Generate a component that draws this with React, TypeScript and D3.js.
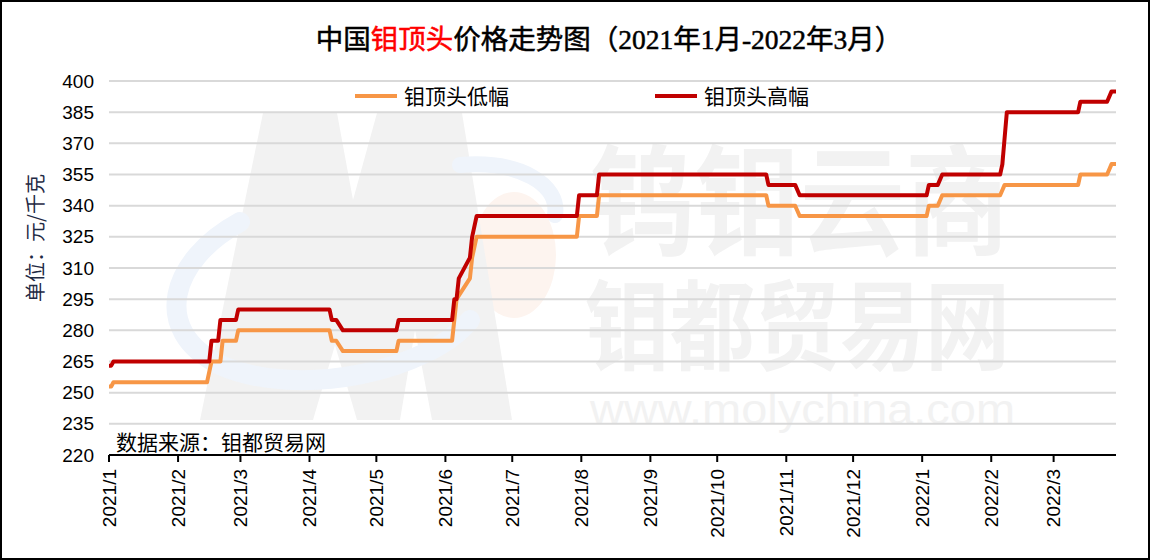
import React from "react";
import * as d3 from "d3";

const W = 1150;
const H = 560;

const titleParts = [
  { text: "中国", red: false },
  { text: "钼顶头", red: true },
  { text: "价格走势图（2021年1月-2022年3月）", red: false },
];
const seriesNames = ["钼顶头低幅", "钼顶头高幅"];
const yTicks = [220, 235, 250, 265, 280, 295, 310, 325, 340, 355, 370, 385, 400];
const yLabel = "单位：元/千克";
const sourceNote = "数据来源：钼都贸易网";

const lowDates = [
  "2021-01-01", "2021-01-02", "2021-01-03", "2021-02-14", "2021-02-16", "2021-02-20",
  "2021-02-21", "2021-02-27", "2021-02-28", "2021-04-10", "2021-04-11", "2021-04-13",
  "2021-04-16", "2021-05-10", "2021-05-11", "2021-06-04", "2021-06-06", "2021-06-12",
  "2021-06-13", "2021-06-15", "2021-07-30", "2021-07-31", "2021-08-08", "2021-08-09",
  "2021-10-23", "2021-10-24", "2021-11-05", "2021-11-07", "2022-01-03", "2022-01-04",
  "2022-01-08", "2022-01-10", "2022-02-05", "2022-02-07", "2022-03-12", "2022-03-13",
  "2022-03-25", "2022-03-27", "2022-03-29",
];
const lowValues = [
  253, 253, 255, 255, 265, 265,
  275, 275, 280, 280, 275, 275,
  270, 270, 275, 275, 295, 305,
  315, 325, 325, 335, 335, 345,
  345, 340, 340, 335, 335, 340,
  340, 345, 345, 350, 350, 355,
  355, 360, 360,
];

const highDates = [
  "2021-01-01", "2021-01-02", "2021-01-03", "2021-02-15", "2021-02-16", "2021-02-19",
  "2021-02-20", "2021-02-27", "2021-02-28", "2021-04-10", "2021-04-11", "2021-04-13",
  "2021-04-16", "2021-05-10", "2021-05-11", "2021-06-04", "2021-06-05", "2021-06-06",
  "2021-06-07", "2021-06-12", "2021-06-13", "2021-06-15", "2021-07-30", "2021-07-31",
  "2021-08-08", "2021-08-09", "2021-10-23", "2021-10-24", "2021-11-05", "2021-11-07",
  "2022-01-03", "2022-01-04", "2022-01-08", "2022-01-10", "2022-02-05", "2022-02-06",
  "2022-02-08", "2022-03-12", "2022-03-13", "2022-03-25", "2022-03-27", "2022-03-29",
];
const highValues = [
  263, 263, 265, 265, 275, 275,
  285, 285, 290, 290, 285, 285,
  280, 280, 285, 285, 295, 295,
  305, 315, 325, 335, 335, 345,
  345, 355, 355, 350, 350, 345,
  345, 350, 350, 355, 355, 360,
  385, 385, 390, 390, 395, 395,
];

const domainStart = "2021-01-01";
const domainEnd = "2022-03-29";

const LOW_COLOR = "#F79646";
const HIGH_COLOR = "#C00000";

const parse = d3.timeParse("%Y-%m-%d");

export default function App() {
  const left = 109;
  const right = 1116;
  const top = 81;
  const bottom = 455;

  const x = d3
    .scaleTime()
    .domain([parse(domainStart) as Date, parse(domainEnd) as Date])
    .range([left, right]);
  const y = d3.scaleLinear().domain([220, 400]).range([bottom, top]);

  const line = d3
    .line<[Date, number]>()
    .x((d) => x(d[0]))
    .y((d) => y(d[1]));

  const lowData: [Date, number][] = lowDates.map((d, i) => [parse(d) as Date, lowValues[i]]);
  const highData: [Date, number][] = highDates.map((d, i) => [parse(d) as Date, highValues[i]]);

  const monthTicks = d3.timeMonth.range(parse("2021-01-01") as Date, parse("2022-03-02") as Date);
  const fmt = (d: Date) => `${d.getFullYear()}/${d.getMonth() + 1}`;

  const sans = "'Liberation Sans', Arial, sans-serif";
  const cjk = "'Noto Sans CJK SC', sans-serif";
  const titleFont = "'Liberation Serif', 'Noto Sans CJK SC', serif";

  const wm = "#f2f2f2";

  return (
    <svg
      width={W}
      height={H}
      style={{ position: "absolute", left: 0, top: 0, background: "#fff" }}
    >
      <rect x={0} y={0} width={W} height={H} fill="#fff" />
      {/* watermark */}
      <g>
        <ellipse cx={514} cy={255} rx={42} ry={63} fill="#fdf4ef" />
        <polygon
          points="200,420 263,113 337,113 353,200 377,113 462,113 512,420 432,420 415,330 400,420 357,420 335,345 313,420"
          fill={wm}
        />
        <path
          d="M 240 222 C 170 260, 150 330, 220 365 C 300 400, 430 370, 470 320"
          fill="none"
          stroke="#eff4fb"
          strokeWidth={20}
          strokeLinecap="round"
        />
        <path
          d="M 460 165 C 520 160, 560 185, 555 215"
          fill="none"
          stroke="#eff4fb"
          strokeWidth={16}
          strokeLinecap="round"
        />
        <g transform="scale(1,1.25)">
          <text
            x={590}
            y={197}
            fontFamily={cjk}
            fontWeight="bold"
            fontSize={96}
            fill={wm}
            textLength={420}
            lengthAdjust="spacingAndGlyphs"
          >
            钨钼云商
          </text>
        </g>
        <g transform="scale(1,1.25)">
          <text
            x={585}
            y={290}
            fontFamily={cjk}
            fontWeight="bold"
            fontSize={78}
            fill={wm}
            textLength={425}
            lengthAdjust="spacingAndGlyphs"
          >
            钼都贸易网
          </text>
        </g>
        <text
          x={590}
          y={424}
          fontFamily={sans}
          fontSize={42}
          fill={wm}
          textLength={425}
          lengthAdjust="spacingAndGlyphs"
        >
          www.molychina.com
        </text>
      </g>

      {/* gridlines */}
      {yTicks.map((t) =>
        t === 220 ? null : (
          <line key={t} x1={left} x2={right} y1={y(t)} y2={y(t)} stroke="#d9d9d9" strokeWidth={2} />
        )
      )}

      {/* y tick labels */}
      {yTicks.map((t) => (
        <text
          key={"yl" + t}
          x={94}
          y={y(t)}
          dy="0.35em"
          textAnchor="end"
          fontFamily={sans}
          fontSize={19}
          fill="#000"
        >
          {t}
        </text>
      ))}

      {/* series */}
      <path d={line(lowData) || ""} fill="none" stroke={LOW_COLOR} strokeWidth={4} strokeLinejoin="round" />
      <path d={line(highData) || ""} fill="none" stroke={HIGH_COLOR} strokeWidth={4} strokeLinejoin="round" />

      {/* x axis */}
      <line x1={left} x2={right} y1={bottom} y2={bottom} stroke="#000" strokeWidth={2} />
      {monthTicks.map((d) => (
        <g key={d.toISOString()}>
          <line x1={x(d)} x2={x(d)} y1={bottom} y2={bottom + 7} stroke="#000" strokeWidth={2} />
          <text
            transform={`translate(${x(d)},${bottom + 14}) rotate(-90)`}
            textAnchor="end"
            dy="0.35em"
            fontFamily={sans}
            fontSize={19}
            fill="#000"
          >
            {fmt(d)}
          </text>
        </g>
      ))}

      {/* source note */}
      <text x={116} y={450} fontFamily={cjk} fontSize={21} fill="#000">
        {sourceNote}
      </text>

      {/* y label */}
      <text
        transform="translate(43,238) rotate(-90)"
        textAnchor="middle"
        fontFamily={cjk}
        fontSize={20}
        fill="#1f2a44"
      >
        {yLabel}
      </text>

      {/* legend */}
      <line x1={355} x2={397} y1={96} y2={96} stroke={LOW_COLOR} strokeWidth={4} />
      <text x={404} y={104} fontFamily={cjk} fontSize={21} fill="#000">
        {seriesNames[0]}
      </text>
      <line x1={655} x2={697} y1={96} y2={96} stroke={HIGH_COLOR} strokeWidth={4} />
      <text x={704} y={104} fontFamily={cjk} fontSize={21} fill="#000">
        {seriesNames[1]}
      </text>

      {/* title */}
      <text
        x={609}
        y={49}
        textAnchor="middle"
        fontFamily={titleFont}
        fontSize={27.5}
        fill="#000"
      >
        {titleParts.map((p, i) => (
          <tspan
            key={i}
            fill={p.red ? "#FF0000" : "#000"}
            stroke={p.red ? "#FF0000" : "#000"}
            strokeWidth={0.5}
          >
            {p.text}
          </tspan>
        ))}
      </text>

      {/* border */}
      <rect x={1} y={1} width={W - 2} height={H - 2} fill="none" stroke="#000" strokeWidth={2} />
    </svg>
  );
}
